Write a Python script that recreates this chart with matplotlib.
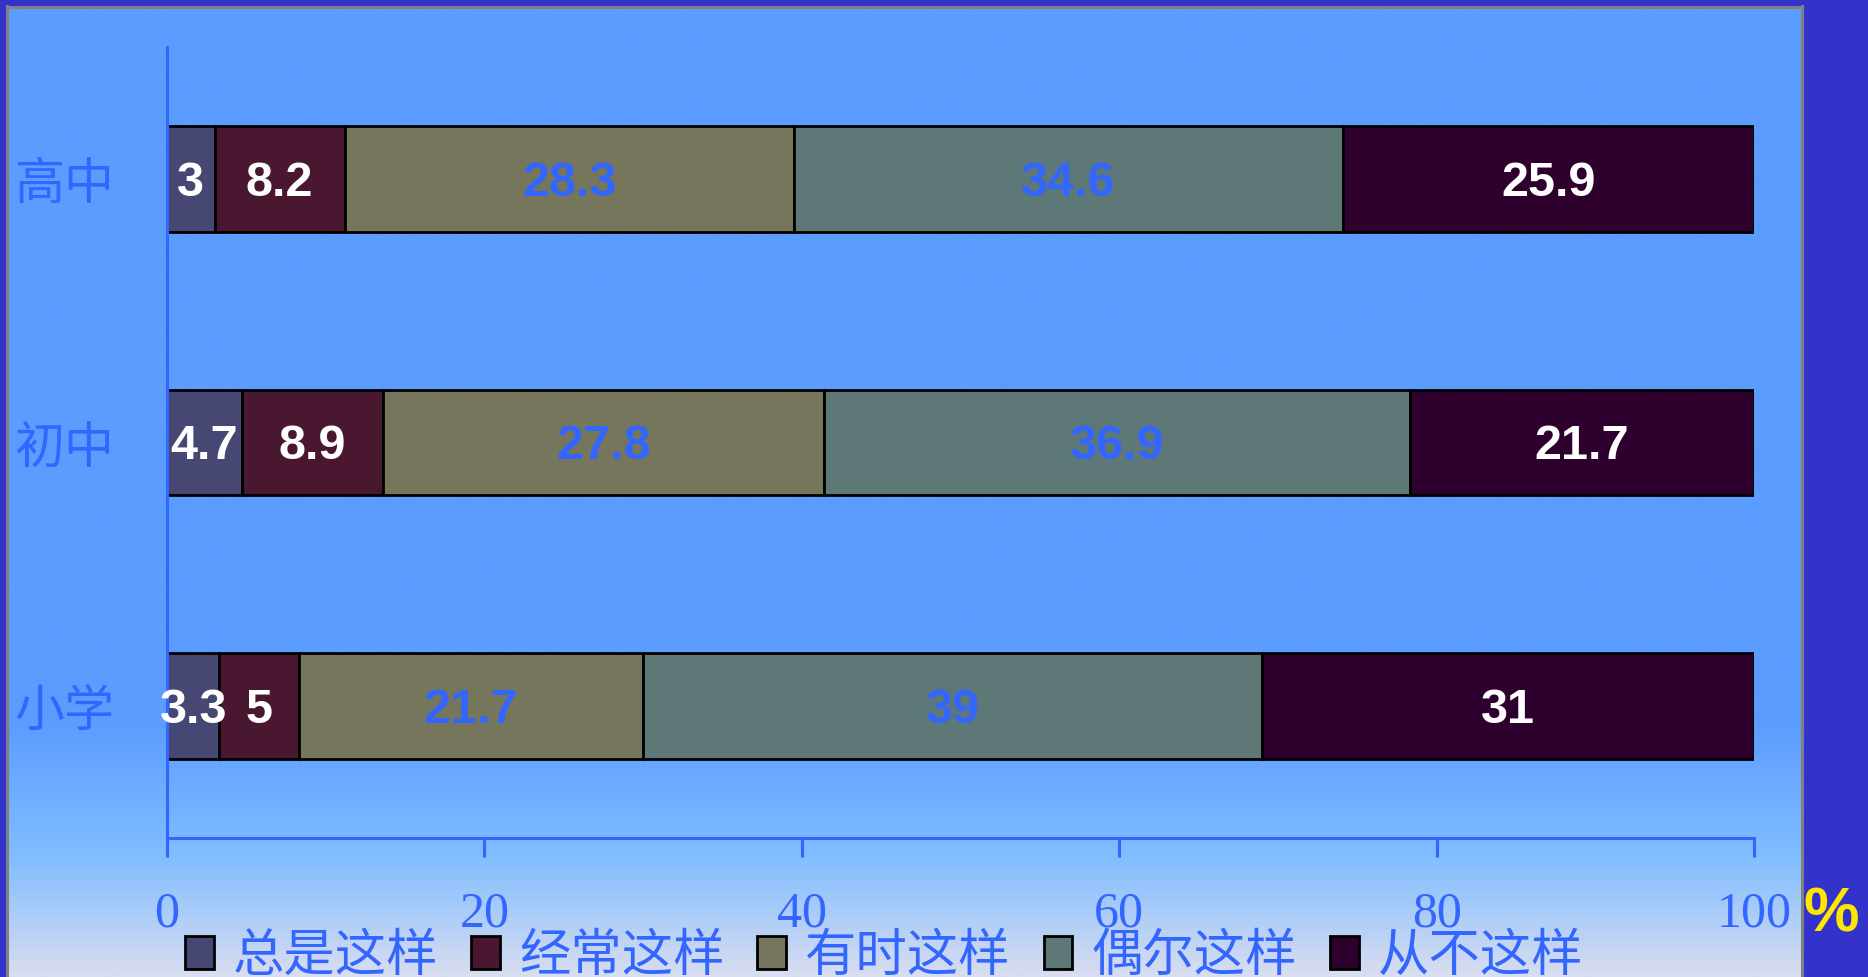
import numpy as np
import matplotlib.pyplot as plt
from matplotlib.colors import LinearSegmentedColormap
from matplotlib.patches import Patch

plt.rcParams['font.family'] = ['Noto Sans CJK SC', 'DejaVu Sans']

# data (percent), bottom to top: 小学, 初中, 高中
groups = ['小学', '初中', '高中']
series = ['总是这样', '经常这样', '有时这样', '偶尔这样', '从不这样']
always = [3.3, 4.7, 3]
often = [5, 8.9, 8.2]
sometimes = [21.7, 27.8, 28.3]
seldom = [39, 36.9, 34.6]
never = [31, 21.7, 25.9]
x_ticks = [0, 20, 40, 60, 80, 100]

colors = ['#464873', '#4A1730', '#76765C', '#5E7777', '#2E002E']
label_colors = ['white', 'white', '#3366FF', '#3366FF', 'white']
BLUE = '#3366FF'

W, H = 1868, 977
fig = plt.figure(figsize=(W / 100, H / 100), dpi=100, facecolor='#3333CC')

# slide panel with gradient at the bottom
bg = fig.add_axes([6.5 / W, 0, (1801.5 - 6.5) / W, (H - 6.5) / H])
cmap = LinearSegmentedColormap.from_list(
    'bg', [(0, '#5B9CFF'), (0.74, '#5B9CFF'), (0.88, '#82BEFF'), (1, '#D8DDF0')])
grad = np.linspace(0, 1, 600).reshape(-1, 1)
bg.imshow(grad, aspect='auto', cmap=cmap, interpolation='bilinear')
bg.set_xticks([])
bg.set_yticks([])
for side in ['top', 'left', 'right']:
    bg.spines[side].set_color('#808080')
    bg.spines[side].set_linewidth(2.2)
bg.spines['bottom'].set_visible(False)

# main chart
ax = fig.add_axes([167 / W, 1 - 838 / H, (1754 - 167) / W, (838 - 47) / H])
ax.set_facecolor('none')

left = np.zeros(len(groups))
for vals, c, lc in zip([always, often, sometimes, seldom, never], colors, label_colors):
    bars = ax.barh(groups, vals, left=left, height=0.4, color=c,
                   edgecolor='black', linewidth=2)
    for bar, v in zip(bars, vals):
        ax.annotate(f'{v:g}', (bar.get_x() + bar.get_width() / 2, bar.get_y() + bar.get_height() / 2),
                    xytext=(0, -3), textcoords='offset points', ha='center', va='center',
                    color=lc, fontsize=35, fontweight='bold', family='Liberation Sans')
    left += np.array(vals)

ax.set_xlim(0, 100)
ax.set_ylim(-0.5, 2.5)
ax.set_xticks(x_ticks)
ax.set_xticklabels([str(t) for t in x_ticks], family='Liberation Serif', fontsize=36)
ax.tick_params(axis='x', direction='out', length=14, width=2.2, color=BLUE,
               labelcolor=BLUE, pad=24)
ax.tick_params(axis='y', length=0, pad=38, labelsize=36, labelcolor=BLUE)
for side in ['top', 'right']:
    ax.spines[side].set_visible(False)
for side in ['left', 'bottom']:
    ax.spines[side].set_color(BLUE)
    ax.spines[side].set_linewidth(2.2)

handles = [Patch(facecolor=c, edgecolor='black', linewidth=2) for c in colors]
fig.legend(handles, series, loc='center left', bbox_to_anchor=(185 / W, 1 - 956 / H),
           ncol=5, frameon=False, fontsize=37, labelcolor=BLUE, handlelength=0.56,
           handleheight=0.6, handletextpad=0.37, columnspacing=0.64,
           borderpad=0, borderaxespad=0)

fig.text(1831 / W, 1 - 915 / H, '%', color='#FFE600', fontsize=45, fontweight='bold',
         family='Liberation Sans', ha='center', va='center')

fig.savefig('out.png', dpi=100, facecolor=fig.get_facecolor())
